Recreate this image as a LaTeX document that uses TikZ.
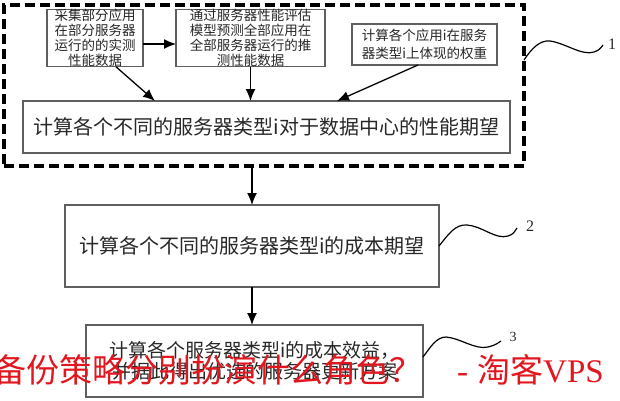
\documentclass[tikz,border=0pt]{standalone}
\usepackage{fontspec}
\setmainfont{Liberation Serif}
\newfontfamily\cjk{Noto Sans CJK SC}
\usetikzlibrary{arrows.meta}
\definecolor{wm}{RGB}{226,22,30}
\definecolor{bordergray}{RGB}{95,95,95}
\definecolor{txtgray}{RGB}{40,40,40}
\begin{document}
\begin{tikzpicture}[x=1pt,y=-1pt,
  box/.style={draw=bordergray, line width=1.3pt, inner sep=0pt, outer sep=0pt, align=center, text=txtgray},
  conn/.style={line width=1.3pt, -{Latex[length=12pt,width=10pt]}},
  squig/.style={line width=1.2pt},
  lbl/.style={inner sep=0pt, text=txtgray}]
\useasboundingbox (0,0) rectangle (620,400);
\fill[white] (0,0) rectangle (620,400);

% dashed group
\node[draw, line width=3.2pt, dash pattern=on 10pt off 5pt, inner sep=0pt, outer sep=0pt,
      minimum width=520pt, minimum height=161pt] (D) at (264,85.5) {};

% top boxes
\node[box, minimum width=96pt, minimum height=56pt, font={\cjk\fontsize{13.5}{15}\selectfont}] (A) at (95,38)
  {采集部分应用\\在部分服务器\\运行的的实测\\性能数据};
\node[box, minimum width=149pt, minimum height=56pt, font={\cjk\fontsize{13.5}{15}\selectfont}] (B) at (250.5,38)
  {通过服务器性能评估\\模型预测全部应用在\\全部服务器运行的推\\测性能数据};
\node[box, minimum width=145pt, minimum height=41pt, font={\cjk\fontsize{13.5}{18}\selectfont}] (C) at (424.5,44.5)
  {计算各个应用i在服务\\器类型i上体现的权重};

% performance box
\node[box, minimum width=487pt, minimum height=52pt, font={\cjk\fontsize{20}{22}\selectfont}] (P) at (266.5,127)
  {计算各个不同的服务器类型i对于数据中心的性能期望};

% cost box
\node[box, minimum width=374pt, minimum height=82pt, font={\cjk\fontsize{20}{22}\selectfont}] (E) at (252,246)
  {计算各个不同的服务器类型i的成本期望};

% benefit box
\node[box, minimum width=337pt, minimum height=72pt, font={\cjk\fontsize{19}{21}\selectfont}] (F) at (254.5,361)
  {计算各个服务器类型i的成本效益，\\并据此得出优选的服务器更新方案};

% connectors
\draw[conn] ([yshift=-6pt]A.east) -- ([yshift=-6pt]B.west);
\draw[conn] ([xshift=21pt]A.south) -- ([xshift=-111.5pt]P.north);
\draw[conn] (B.south) -- (B.south |- P.north);
\draw[conn] ([xshift=-6.5pt]C.south) -- ([xshift=70.5pt]P.north);
\draw[conn] (D.south -| E.north) -- (E.north);
\draw[conn] (E.south) -- (E.south |- F.north);

% reference labels
\node[lbl, font=\fontsize{16}{16}\selectfont] (L1) at (612,44) {1};
\node[lbl, font=\fontsize{16}{16}\selectfont] (L2) at (530,226) {2};
\node[lbl, font=\fontsize{14}{14}\selectfont] (L3) at (513,337) {3};

\draw[squig] ([yshift=25.5pt]D.east) .. controls (532,48) and (540,40) .. (550,41)
  .. controls (565,43) and (582,56) .. (594,52) .. controls (599,50) .. (603,45);
\draw[squig] (E.east) .. controls (448,235) and (455,224) .. (467,225)
  .. controls (482,226) and (496,240) .. (508,236) .. controls (513,234) .. (517,228);
\draw[squig] ([yshift=4pt]F.east) .. controls (430,348) and (436,337) .. (446,337)
  .. controls (460,338) and (475,350) .. (488,347) .. controls (495,345) .. (501,341);

% watermark
\node[anchor=base west, inner sep=0pt, text=wm, font={\cjk\fontsize{33}{33}\selectfont}] (W) at (-7,382)
  {备份策略分别扮演什么角色？\hspace{35pt}{\rmfamily -}\hspace{9pt}淘客{\rmfamily VPS}};
\end{tikzpicture}
\end{document}
